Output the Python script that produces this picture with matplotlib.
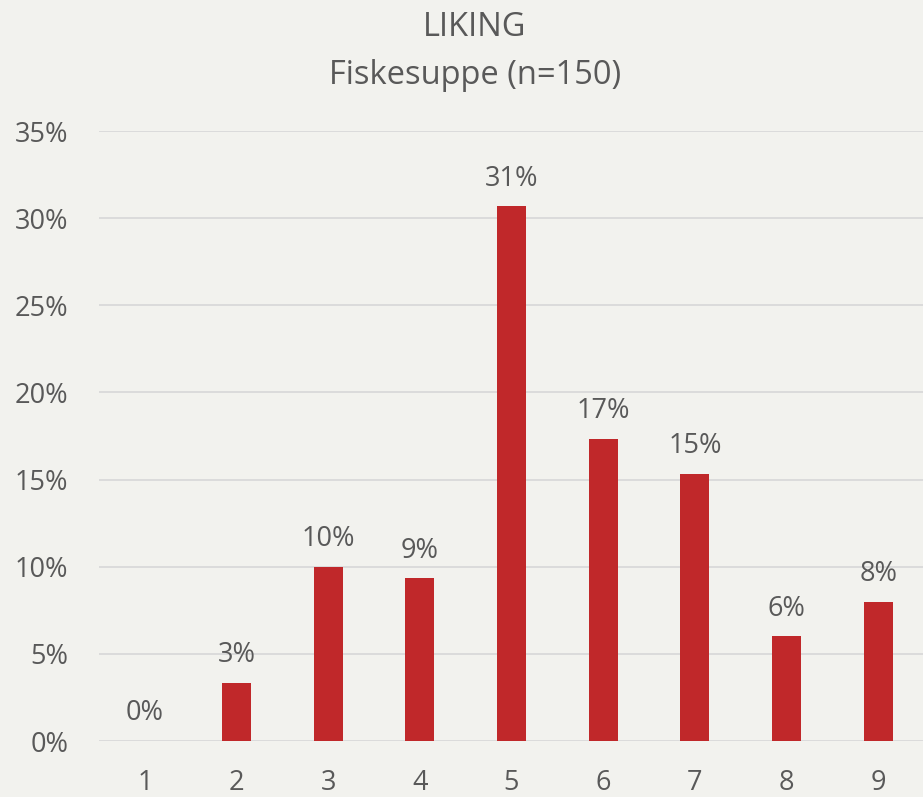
import matplotlib
matplotlib.use("Agg")
import matplotlib.pyplot as plt
from matplotlib.ticker import PercentFormatter

categories = ["1", "2", "3", "4", "5", "6", "7", "8", "9"]
values = [0.0, 3.33, 10.0, 9.33, 30.67, 17.33, 15.33, 6.0, 8.0]
labels = ["0%", "3%", "10%", "9%", "31%", "17%", "15%", "6%", "8%"]
yticks = [0, 5, 10, 15, 20, 25, 30, 35]

plt.rcParams['font.family'] = ['Open Sans', 'DejaVu Sans']
txt = '#595959'
bg = '#F2F2EE'

fig = plt.figure(figsize=(9.23, 7.97), dpi=100, facecolor=bg)
ax = fig.add_axes([99/923, 56/797, 825/923, 610/797], facecolor=bg)

x = list(range(1, len(categories) + 1))
bars = ax.bar(x, values, width=0.315, color='#C0282A', zorder=3)

for xi, v, lab in zip(x, values, labels):
    ax.annotate(lab, (xi, v), xytext=(0, 10), textcoords='offset points',
                ha='center', va='bottom', fontsize=19.5, color=txt)

ax.set_xlim(0.5, 9.5)
ax.set_ylim(0, 35)
ax.set_yticks(yticks)
ax.yaxis.set_major_formatter(PercentFormatter(decimals=0))
ax.set_xticks(x)
ax.set_xticklabels(categories)
ax.grid(axis='y', color='#D9D9D9', linewidth=1.3, zorder=0)
for s in ax.spines.values():
    s.set_visible(False)
ax.tick_params(axis='both', length=0, labelsize=19.5, colors=txt)
ax.tick_params(axis='y', pad=22)
ax.tick_params(axis='x', pad=20)

fig.text(475/923, 1 - 28/797, "LIKING", ha='center', va='center', fontsize=23.5, color=txt)
fig.text(475/923, 1 - 75/797, "Fiskesuppe (n=150)", ha='center', va='center', fontsize=23.5, color=txt)

fig.savefig("out.png", dpi=100, facecolor=bg)
